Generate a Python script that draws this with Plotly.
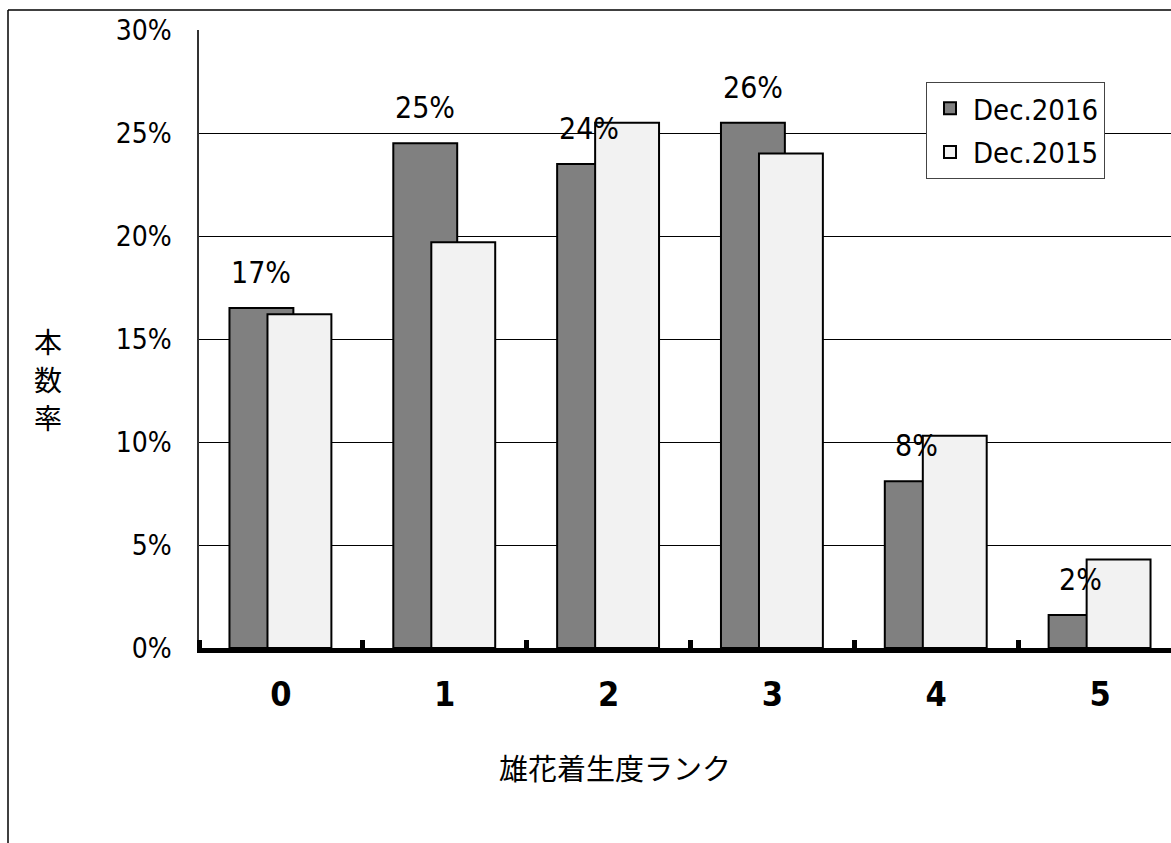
import plotly.graph_objects as go

categories = [0, 1, 2, 3, 4, 5]
dec2016 = [0.165, 0.245, 0.235, 0.255, 0.081, 0.016]
dec2015 = [0.162, 0.197, 0.255, 0.240, 0.103, 0.043]
labels2016 = ["17%", "25%", "24%", "26%", "8%", "2%"]
y_ticks = [0, 0.05, 0.10, 0.15, 0.20, 0.25, 0.30]
y_tick_text = ["0%", "5%", "10%", "15%", "20%", "25%", "30%"]
x_title = "雄花着生度ランク"
y_title_chars = ["本", "数", "率"]

NUM_FONT = "Liberation Sans Narrow, DejaVu Sans Condensed, Roboto, sans-serif"
JP_FONT = "Noto Sans CJK JP, sans-serif"

W, H = 1171, 843
L, R, T, B = 199, 0, 30, 195
pw, ph = W - L - R, H - T - B

bar_w = 0.39
off_dark = -0.314
off_light = -0.082

fig = go.Figure()
fig.add_trace(go.Bar(
    x=categories, y=dec2016, name="Dec.2016", legendgroup="a",
    width=bar_w, offset=off_dark,
    marker=dict(color="#808080", line=dict(color="black", width=2)),
))
fig.add_trace(go.Bar(
    x=categories, y=dec2015, name="Dec.2015", legendgroup="b",
    width=bar_w, offset=off_light,
    marker=dict(color="#F2F2F2", line=dict(color="black", width=2)),
))

annotations = []
for c, v, t in zip(categories, dec2016, labels2016):
    annotations.append(dict(
        x=c + off_dark + bar_w / 2, y=v, xref="x", yref="y",
        text=t, showarrow=False, xanchor="center", yanchor="bottom", yshift=16,
        font=dict(family=NUM_FONT, size=30, color="black"),
    ))

def px_to_paper(px, py):
    return (px - L) / pw, (H - B - py) / ph

tx, ty = px_to_paper(615, 767)
annotations.append(dict(
    x=tx, y=ty, xref="paper", yref="paper", text=x_title,
    showarrow=False, xanchor="center", yanchor="middle",
    font=dict(family=JP_FONT, size=29, color="black"),
))
for i, ch in enumerate(y_title_chars):
    cx, cy = px_to_paper(48, 341 + 38 * i)
    annotations.append(dict(
        x=cx, y=cy, xref="paper", yref="paper",
        text=ch, showarrow=False, xanchor="center", yanchor="middle",
        font=dict(family=JP_FONT, size=28, color="black"),
    ))

bx0, by0 = px_to_paper(8, 10)
shapes = [
    dict(type="line", xref="paper", yref="paper",
         x0=bx0, x1=1.05, y0=by0, y1=by0,
         line=dict(color="black", width=1.5)),
    dict(type="line", xref="paper", yref="paper",
         x0=bx0, x1=bx0, y0=by0, y1=-0.5,
         line=dict(color="black", width=1.5)),
]

lx, ly = px_to_paper(926, 82)
fig.update_layout(
    width=W, height=H,
    margin=dict(l=L, r=R, t=T, b=B, pad=0),
    paper_bgcolor="white", plot_bgcolor="white",
    barmode="overlay",
    showlegend=True,
    legend=dict(
        x=lx, y=ly, xanchor="left", yanchor="top",
        bgcolor="white", bordercolor="#444", borderwidth=1,
        font=dict(family=NUM_FONT, size=29, color="black"),
        traceorder="grouped", tracegroupgap=3, itemwidth=36,
    ),
    xaxis=dict(
        range=[-0.5, 5.5 - (1182 - 1171) / 164],
        tickvals=categories, ticktext=[str(c) for c in categories],
        ticks="", showgrid=False, zeroline=False,
        showline=True, linecolor="black", linewidth=5,
        tickfont=dict(family=NUM_FONT, size=34, color="black", weight="bold"),
        ticklabelstandoff=12,
        minor=dict(tick0=-0.5, dtick=1, ticks="inside", ticklen=8,
                   tickwidth=5, tickcolor="black"),
        fixedrange=True,
    ),
    yaxis=dict(
        range=[0, 0.30], tickvals=y_ticks, ticktext=y_tick_text,
        showgrid=True, gridcolor="black", gridwidth=1,
        zeroline=False, showline=True, linecolor="#333", linewidth=1.5,
        ticks="", tickfont=dict(family=NUM_FONT, size=28, color="black"),
        ticklabelstandoff=20,
        fixedrange=True,
    ),
    annotations=annotations,
    shapes=shapes,
)

fig.write_html("out.html")
